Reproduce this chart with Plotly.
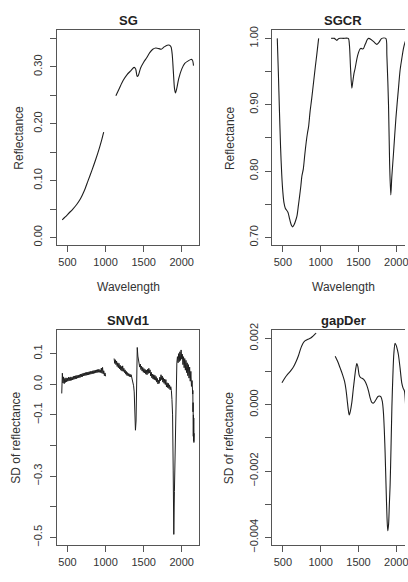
import plotly.graph_objects as go

# ---------------- data ----------------
# Panel 1: SG (Savitzky-Golay smoothed reflectance)
sg_wl_a = [430, 470, 520, 570, 620, 670, 720, 770, 820, 870, 920, 950, 975]
sg_val_a = [0.031, 0.036, 0.043, 0.050, 0.058, 0.068, 0.082, 0.100, 0.118, 0.137, 0.158, 0.172, 0.185]
sg_wl_b = [1135, 1180, 1230, 1280, 1330, 1375, 1395, 1415, 1430, 1460,
           1500, 1540, 1580, 1620, 1660, 1700, 1730, 1770, 1810, 1840,
           1860, 1875, 1890, 1905, 1918, 1935, 1960, 2000, 2040, 2080,
           2120, 2140, 2155]
sg_val_b = [0.249, 0.262, 0.276, 0.286, 0.293, 0.299, 0.296, 0.283, 0.285, 0.298,
            0.308, 0.316, 0.325, 0.331, 0.333, 0.332, 0.331, 0.335, 0.338, 0.338,
            0.335, 0.322, 0.292, 0.262, 0.254, 0.262, 0.279, 0.296, 0.306, 0.310,
            0.313, 0.312, 0.302]

# Panel 2: SGCR (continuum removed)
sgcr_wl_a = [426, 440, 455, 470, 485, 500, 515, 532, 550, 567,
             585, 600, 615, 630, 648, 665, 686, 705, 721, 738,
             752, 770, 790, 810, 825, 840, 860, 880, 907, 930,
             950, 973]
sgcr_val_a = [1.000, 0.950, 0.890, 0.835, 0.795, 0.768, 0.752, 0.744, 0.741, 0.738,
              0.730, 0.723, 0.718, 0.716, 0.719, 0.724, 0.732, 0.748, 0.762, 0.778,
              0.793, 0.803, 0.825, 0.845, 0.857, 0.867, 0.890, 0.908, 0.935, 0.958,
              0.977, 1.000]
sgcr_wl_b = [1139, 1180, 1214, 1240, 1300, 1365, 1380, 1395, 1412, 1425,
             1440, 1456, 1480, 1501, 1520, 1535, 1555, 1567, 1585, 1597,
             1615, 1633, 1670, 1710, 1742, 1770, 1808, 1861, 1875, 1897,
             1912, 1927, 1940, 1963, 1995, 2029, 2050, 2072, 2095, 2115,
             2135, 2150]
sgcr_val_b = [1.000, 1.000, 0.997, 1.000, 1.000, 1.000, 0.990, 0.955, 0.925, 0.935,
              0.947, 0.955, 0.970, 0.979, 0.984, 0.985, 0.984, 0.985, 0.990, 0.993,
              0.998, 1.000, 0.998, 0.994, 0.991, 0.994, 1.000, 1.000, 0.975, 0.900,
              0.810, 0.764, 0.790, 0.827, 0.880, 0.925, 0.952, 0.969, 0.985, 0.994,
              0.999, 1.000]

# Panel 3: SNVd1 (noisy first derivative of SNV); sampled every 8 nm
snv_start_a, snv_step = 424, 8
snv_val_a = [-0.030, 0.036, 0.004, 0.024, 0.002, 0.019, 0.006, 0.021, 0.008, 0.020,
             0.010, 0.023, 0.011, 0.022, 0.012, 0.024, 0.013, 0.023, 0.014, 0.026,
             0.016, 0.027, 0.017, 0.028, 0.018, 0.029, 0.020, 0.030, 0.021, 0.031,
             0.022, 0.033, 0.024, 0.034, 0.025, 0.036, 0.027, 0.037, 0.028, 0.038,
             0.029, 0.039, 0.030, 0.040, 0.031, 0.041, 0.032, 0.042, 0.033, 0.042,
             0.034, 0.044, 0.035, 0.045, 0.036, 0.046, 0.037, 0.047, 0.038, 0.048,
             0.039, 0.049, 0.039, 0.047, 0.038, 0.053, 0.036, 0.055, 0.034, 0.044,
             0.028, 0.037, 0.026]
snv_start_b = 1112
snv_val_b = [0.084, 0.068, 0.080, 0.064, 0.076, 0.058, 0.070, 0.054, 0.068, 0.050,
             0.062, 0.046, 0.058, 0.043, 0.060, 0.042, 0.052, 0.038, 0.047, 0.033,
             0.042, 0.029, 0.038, 0.027, 0.035, 0.025, 0.033, 0.024, 0.031, 0.022,
             0.020, 0.012, -0.005, -0.025, -0.080, -0.150, -0.120, -0.030, 0.120, 0.092,
             0.078, 0.070, 0.056, 0.066, 0.048, 0.059, 0.043, 0.055, 0.039, 0.051,
             0.037, 0.048, 0.033, 0.046, 0.031, 0.049, 0.035, 0.052, 0.037, 0.047,
             0.027, 0.039, 0.021, 0.033, 0.017, 0.031, 0.015, 0.029, 0.013, 0.025,
             0.007, 0.019, 0.001, 0.013, 0.003, 0.023, 0.011, 0.031, 0.015, 0.027,
             0.007, 0.021, 0.003, 0.017, -0.001, 0.015, -0.009, 0.005, -0.011, 0.003,
             -0.014, -0.002, -0.018, -0.008, -0.020, -0.050, -0.100, -0.280, -0.490, -0.350,
             -0.200, -0.080, 0.030, 0.070, 0.090, 0.070, 0.100, 0.074, 0.106, 0.078,
             0.112, 0.082, 0.098, 0.064, 0.090, 0.054, 0.084, 0.046, 0.078, 0.038,
             0.070, 0.028, 0.064, 0.020, 0.056, 0.010, 0.042, -0.007, 0.012, -0.032]
snv_tail_wl = [2146, 2148, 2150, 2152, 2154, 2156, 2158, 2160, 2162, 2164]
snv_tail_val = [-0.020, -0.090, -0.060, -0.170, -0.100, -0.185, -0.110, -0.190, -0.120, -0.160]

# Panel 4: gapDer (gap-segment derivative)
gd_wl_a = [488, 520, 550, 577, 610, 643, 675, 708, 730, 752, 775, 796, 830, 862, 895, 928, 940]
gd_val_a = [0.00066, 0.00078, 0.00088, 0.00095, 0.00104, 0.00115, 0.00130, 0.00149, 0.00165,
            0.00178, 0.00188, 0.00193, 0.00197, 0.00200, 0.00206, 0.00213, 0.00216]
gd_wl_b = [1192, 1225, 1258, 1290, 1316, 1335, 1350, 1365, 1377, 1392,
           1412, 1430, 1448, 1465, 1478, 1492, 1508, 1525, 1544, 1565,
           1588, 1610, 1633, 1655, 1676, 1700, 1730, 1755, 1773, 1795,
           1815, 1831, 1842, 1852, 1865, 1877, 1887, 1898, 1908, 1918,
           1930, 1942, 1955, 1968, 1984, 2000, 2015, 2029, 2050, 2072,
           2090, 2108, 2125, 2140]
gd_val_b = [0.00146, 0.00130, 0.00110, 0.00090, 0.00070, 0.00045, 0.00015, -0.00015, -0.00031, -0.00020,
            0.00007, 0.00045, 0.00080, 0.00110, 0.00124, 0.00115, 0.00090, 0.00082, 0.00080, 0.00077,
            0.00070, 0.00058, 0.00041, 0.00020, 0.00007, 0.00005, 0.00015, 0.00024, 0.00026, 0.00024,
            0.00010, -0.00028, -0.00080, -0.00145, -0.00250, -0.00340, -0.00380, -0.00360, -0.00300, -0.00243,
            -0.00130, -0.00005, 0.00090, 0.00155, 0.00185, 0.00178, 0.00165, 0.00149, 0.00110, 0.00066,
            0.00050, 0.00041, -0.00008, -0.00060]

titles = ["SG", "SGCR", "SNVd1", "gapDer"]
xlabel = "Wavelength"
ylabels = ["Reflectance", "Reflectance", "SD of reflectance", "SD of reflectance"]
x_ticks = [500, 1000, 1500, 2000]
y_ticks = [
    ([0.00, 0.05, 0.10, 0.15, 0.20, 0.25, 0.30, 0.35], ["0.00", "", "0.10", "", "0.20", "", "0.30", ""]),
    ([0.70, 0.75, 0.80, 0.85, 0.90, 0.95, 1.00], ["0.70", "", "0.80", "", "0.90", "", "1.00"]),
    ([-0.5, -0.4, -0.3, -0.2, -0.1, 0.0, 0.1], ["\u22120.5", "", "\u22120.3", "", "\u22120.1", "0.0", "0.1"]),
    ([-0.004, -0.003, -0.002, -0.001, 0.000, 0.001, 0.002], ["\u22120.004", "", "\u22120.002", "", "0.000", "", "0.002"]),
]
y_ranges = [[-0.014, 0.364], [0.688, 1.012], [-0.526, 0.176], [-0.00424, 0.00224]]

# ---------------- layout geometry ----------------
W, H = 408, 582
FONT = "Liberation Sans, Arial, Helvetica, sans-serif"
TC = "#333333"
LC = "#555555"
DC = "#1e1e1e"

def fx(px):
    return px / W

def fy(py):
    return 1 - py / H

col_dom = [[fx(57.3), fx(200.7)], [fx(274.3), 1.0]]
col_range = [[360, 2230], [360, 2115]]
col_center = [129.0, 346.0]
row_dom = [[fy(244.3), fy(24.0)], [fy(551.7), fy(331.3)]]
row_box_mid = [134.0, 441.5]
row_title_y = [14.0, 321.5]
ytitle_x = [[19.0, 231.0], [16.0, 231.0]]


def join(wa, va, wb, vb):
    return list(wa) + [None] + list(wb), list(va) + [None] + list(vb)


snv_wl_a = [snv_start_a + snv_step * i for i in range(len(snv_val_a))]
snv_wl_b = [snv_start_b + snv_step * i for i in range(len(snv_val_b))] + snv_tail_wl
snv_val_b_full = snv_val_b + snv_tail_val

series = [
    join(sg_wl_a, sg_val_a, sg_wl_b, sg_val_b),
    join(sgcr_wl_a, sgcr_val_a, sgcr_wl_b, sgcr_val_b),
    join(snv_wl_a, snv_val_a, snv_wl_b, snv_val_b_full),
    join(gd_wl_a, gd_val_a, gd_wl_b, gd_val_b),
]
smooth = [True, True, False, True]

fig = go.Figure()
annotations = []
layout = dict(
    width=W, height=H, autosize=False,
    margin=dict(l=0, r=0, t=0, b=0),
    paper_bgcolor="white", plot_bgcolor="white",
    showlegend=False,
    font=dict(family=FONT, color=TC, size=11),
)

for k in range(4):
    r, c = divmod(k, 2)
    xs, ys = series[k]
    xa = "x" if k == 0 else f"x{k+1}"
    ya = "y" if k == 0 else f"y{k+1}"
    line = dict(color=DC, width=1.1)
    if smooth[k]:
        line.update(shape="spline", smoothing=0.8)
    else:
        line.update(width=1.0)
    fig.add_trace(go.Scatter(x=xs, y=ys, mode="lines", line=line,
                             xaxis=xa, yaxis=ya, connectgaps=False,
                             hoverinfo="skip"))
    xkey = "xaxis" if k == 0 else f"xaxis{k+1}"
    ykey = "yaxis" if k == 0 else f"yaxis{k+1}"
    layout[xkey] = dict(
        domain=col_dom[c], anchor=ya, range=col_range[c],
        tickmode="array", tickvals=x_ticks, ticktext=[str(t) for t in x_ticks],
        showgrid=False, zeroline=False, showline=True, mirror=True,
        linecolor=LC, linewidth=1, ticks="outside", ticklen=6, tickwidth=1,
        tickcolor=LC, tickfont=dict(family=FONT, size=11, color=TC),
        ticklabeloverflow="allow",
    )
    tv, tt = y_ticks[k]
    layout[ykey] = dict(
        domain=row_dom[r], anchor=xa, range=y_ranges[k],
        tickmode="array", tickvals=tv, ticktext=tt, tickangle=-90,
        showgrid=False, zeroline=False, showline=True, mirror=(c == 0),
        linecolor=LC, linewidth=1, ticks="outside", ticklen=6, tickwidth=1,
        tickcolor=LC, tickfont=dict(family=FONT, size=11, color=TC),
        ticklabelstandoff=3, ticklabeloverflow="allow",
    )
    # panel title
    annotations.append(dict(
        text=f"<b>{titles[k]}</b>", x=fx(col_center[c]), y=fy(row_title_y[r]),
        xref="paper", yref="paper", xanchor="center", yanchor="middle",
        showarrow=False, font=dict(family=FONT, size=13, color="#222222")))
    # y axis title
    annotations.append(dict(
        text=ylabels[k], x=fx(ytitle_x[r][c]), y=fy(row_box_mid[r]),
        xref="paper", yref="paper", xanchor="center", yanchor="middle",
        textangle=-90, showarrow=False, font=dict(family=FONT, size=12, color=TC)))
    # x axis title (only visible for the top row)
    if r == 0:
        annotations.append(dict(
            text=xlabel, x=fx(col_center[c]), y=fy(287.0),
            xref="paper", yref="paper", xanchor="center", yanchor="middle",
            showarrow=False, font=dict(family=FONT, size=12, color=TC)))

layout["annotations"] = annotations
fig.update_layout(**layout)
fig.write_html("out.html")
